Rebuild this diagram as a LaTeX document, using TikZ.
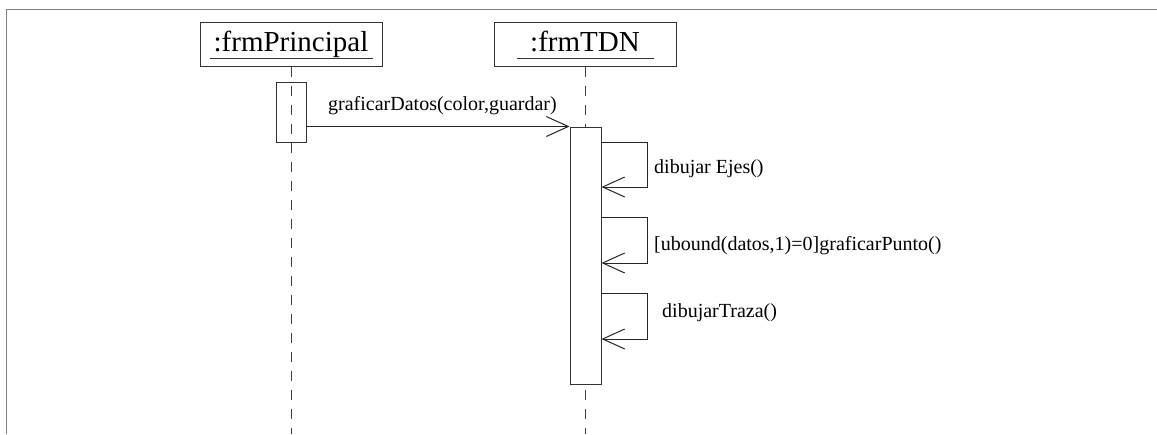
\documentclass[tikz,border=0pt]{standalone}
\usepackage{fontspec}
\setmainfont{Liberation Serif}
\usetikzlibrary{arrows.meta,calc}

\tikzset{
  objbox/.style={draw=black!80, line width=1pt, minimum width=182pt, minimum height=44pt,
    inner sep=0pt, text height=20pt, text depth=6pt, font=\fontsize{29}{32}\selectfont},
  actbox/.style={draw=black!80, line width=1pt, inner sep=0pt},
  lifeline/.style={black!75, line width=1pt, dash pattern=on 10pt off 9pt},
  msg/.style={black!85, line width=1pt, -{Straight Barb[length=22pt, width=20pt]}},
  msglabel/.style={font=\fontsize{20}{22}\selectfont, inner sep=0pt, anchor=base west}
}

\begin{document}
\begin{tikzpicture}[x=1pt, y=-1pt]
  \useasboundingbox (0,0) rectangle (1157,434);
  % frame
  \draw[gray, line width=1.5pt] (6.5,434) -- (6.5,9.5) -- (1157,9.5);

  % objects
  \node[objbox] (prin) at (291,44) {:frmPrincipal};
  \node[objbox] (tdn) at (585,44) {:frmTDN};
  \draw[black!80, line width=1pt] ($(prin.center)+(-81,14)$) -- ($(prin.center)+(82,14)$);
  \draw[black!80, line width=1pt] ($(tdn.center)+(-68,14)$) -- ($(tdn.center)+(69,14)$);

  % lifelines
  \draw[lifeline] (prin.south) -- (prin.south |- 0,434);
  \draw[lifeline] (tdn.south) -- (tdn.south |- 0,434);

  % activations
  \node[actbox, minimum width=30pt, minimum height=60pt] (actPrin) at (291,112) {};
  \node[actbox, fill=white, minimum width=31pt, minimum height=257pt] (actTdn) at (585.5,255.5) {};

  % call from frmPrincipal
  \draw[msg] (actPrin.east |- actTdn.north west) -- (actTdn.north west);
  \node[msglabel] (lblCall) at (328,110) {graficarDatos(color,guardar)};

  % self calls
  \foreach \ya/\yb/\lx/\ly/\lbl in {142/187/654/173/{dibujar Ejes()},
      217/263/654/250/{[ubound(datos,1)=0]graficarPunto()},
      293/339/662/317/{dibujarTraza()}} {
    \coordinate (s\ya) at (actTdn.east |- 0,\ya);
    \coordinate (e\ya) at (actTdn.east |- 0,\yb);
    \draw[msg] (s\ya) -- ++(46,0) -- ($(e\ya)+(46,0)$) -- (e\ya);
    \node[msglabel] (lbl\ya) at (\lx,\ly) {\lbl};
  }
\end{tikzpicture}
\end{document}
